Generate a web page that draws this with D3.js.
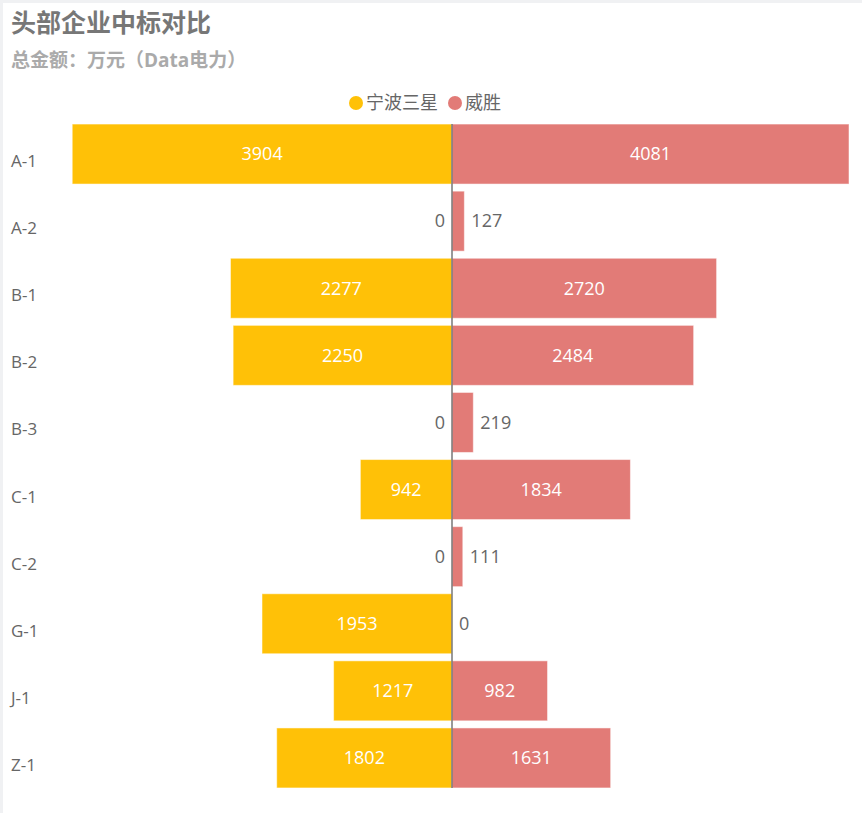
<!DOCTYPE html>
<html>
<head>
<meta charset="utf-8">
<script src="https://cdn.jsdelivr.net/npm/d3@7"></script>
<style>
  body { margin: 0; background: #f0f1f3; }
  svg { display: block; }
  text { font-family: "Segoe UI", "Open Sans", "Noto Sans CJK SC", sans-serif; }
</style>
</head>
<body>
<svg id="chart" width="862" height="813"></svg>
<script>
const categories = ["A-1", "A-2", "B-1", "B-2", "B-3", "C-1", "C-2", "G-1", "J-1", "Z-1"]
const seriesNames = ["宁波三星", "威胜"]
const ningbo = [3904, 0, 2277, 2250, 0, 942, 0, 1953, 1217, 1802]
const weisheng = [4081, 127, 2720, 2484, 219, 1834, 111, 0, 982, 1631]
const colors = ["#ffc107", "#e27b77"]

const svg = d3.select("#chart")

// white panel, light grey frame on top and left
svg.append("rect")
    .attr("x", 3).attr("y", 3)
    .attr("width", 859).attr("height", 810)
    .attr("fill", "#fff")

svg.append("text")
    .attr("x", 11).attr("y", 32)
    .attr("font-size", 25).attr("font-weight", "bold")
    .attr("fill", "#777")
    .text("头部企业中标对比")

svg.append("text")
    .attr("x", 11).attr("y", 67)
    .attr("font-size", 19).attr("font-weight", "bold")
    .attr("fill", "#aaa")
    .text("总金额：万元（Data电力）")

/* legend */
const legend = svg.append("g")
const legendX = [349, 448]
seriesNames.forEach((name, i) => {
    const g = legend.append("g").attr("transform", `translate(${legendX[i]},103)`)
    g.append("circle").attr("cx", 7).attr("cy", 0).attr("r", 7).attr("fill", colors[i])
    g.append("text")
        .attr("x", 17).attr("y", 0)
        .attr("dy", "0.35em")
        .attr("font-size", 18)
        .attr("fill", "#666")
        .text(name)
})

const maxVal = d3.max([...ningbo, ...weisheng])
const centerX = 452
const x = d3.scaleLinear()
    .domain([-maxVal, maxVal])
    .range([centerX - 397, centerX + 397])

const y = d3.scaleBand()
    .domain(categories)
    .range([120.5, 791.5])
    .paddingInner(0.106)
    .paddingOuter(0.053)

/* category axis labels, sit a little below the bar centre */
svg.append("g")
    .selectAll("text")
    .data(categories)
    .join("text")
    .attr("x", 11)
    .attr("y", d => y(d) + y.bandwidth() / 2 + 7)
    .attr("dy", "0.35em")
    .attr("font-size", 17)
    .attr("fill", "#666")
    .text(d => d)

const rows = categories.map((c, i) => ({ cat: c, left: ningbo[i], right: weisheng[i] }))
const labelMin = 50

// left bars (宁波三星)
const leftG = svg.append("g")
leftG.selectAll("rect")
    .data(rows)
    .join("rect")
    .attr("x", d => x(-d.left))
    .attr("y", d => y(d.cat))
    .attr("width", d => x(0) - x(-d.left))
    .attr("height", y.bandwidth())
    .attr("fill", colors[0])
    .attr("stroke", "rgba(255,255,255,0.5)")
    .attr("stroke-width", 1)

leftG.selectAll("text")
    .data(rows)
    .join("text")
    .attr("x", d => {
        const w = x(0) - x(-d.left)
        return w > labelMin ? x(-d.left) + w / 2 : x(-d.left) - 7
    })
    .attr("y", d => y(d.cat) + y.bandwidth() / 2)
    .attr("dy", "0.35em")
    .attr("text-anchor", d => (x(0) - x(-d.left)) > labelMin ? "middle" : "end")
    .attr("font-size", 18)
    .attr("fill", d => (x(0) - x(-d.left)) > labelMin ? "#fff" : "#666")
    .text(d => d.left)

// right bars (威胜)
const rightG = svg.append("g")
rightG.selectAll("rect")
    .data(rows)
    .join("rect")
    .attr("x", x(0))
    .attr("y", d => y(d.cat))
    .attr("width", d => x(d.right) - x(0))
    .attr("height", y.bandwidth())
    .attr("fill", colors[1])
    .attr("stroke", "rgba(255,255,255,0.5)")
    .attr("stroke-width", 1)

rightG.selectAll("text")
    .data(rows)
    .join("text")
    .attr("x", d => {
        const w = x(d.right) - x(0)
        return w > labelMin ? x(0) + w / 2 : x(d.right) + 7
    })
    .attr("y", d => y(d.cat) + y.bandwidth() / 2)
    .attr("dy", "0.35em")
    .attr("text-anchor", d => (x(d.right) - x(0)) > labelMin ? "middle" : "start")
    .attr("font-size", 18)
    .attr("fill", d => (x(d.right) - x(0)) > labelMin ? "#fff" : "#666")
    .text(d => d.right)

/* centre axis line */
svg.append("line")
    .attr("x1", x(0)).attr("x2", x(0))
    .attr("y1", y(categories[0]))
    .attr("y2", y(categories[categories.length - 1]) + y.bandwidth())
    .attr("stroke", "#777")
    .attr("stroke-width", 1.5)
</script>
</body>
</html>
